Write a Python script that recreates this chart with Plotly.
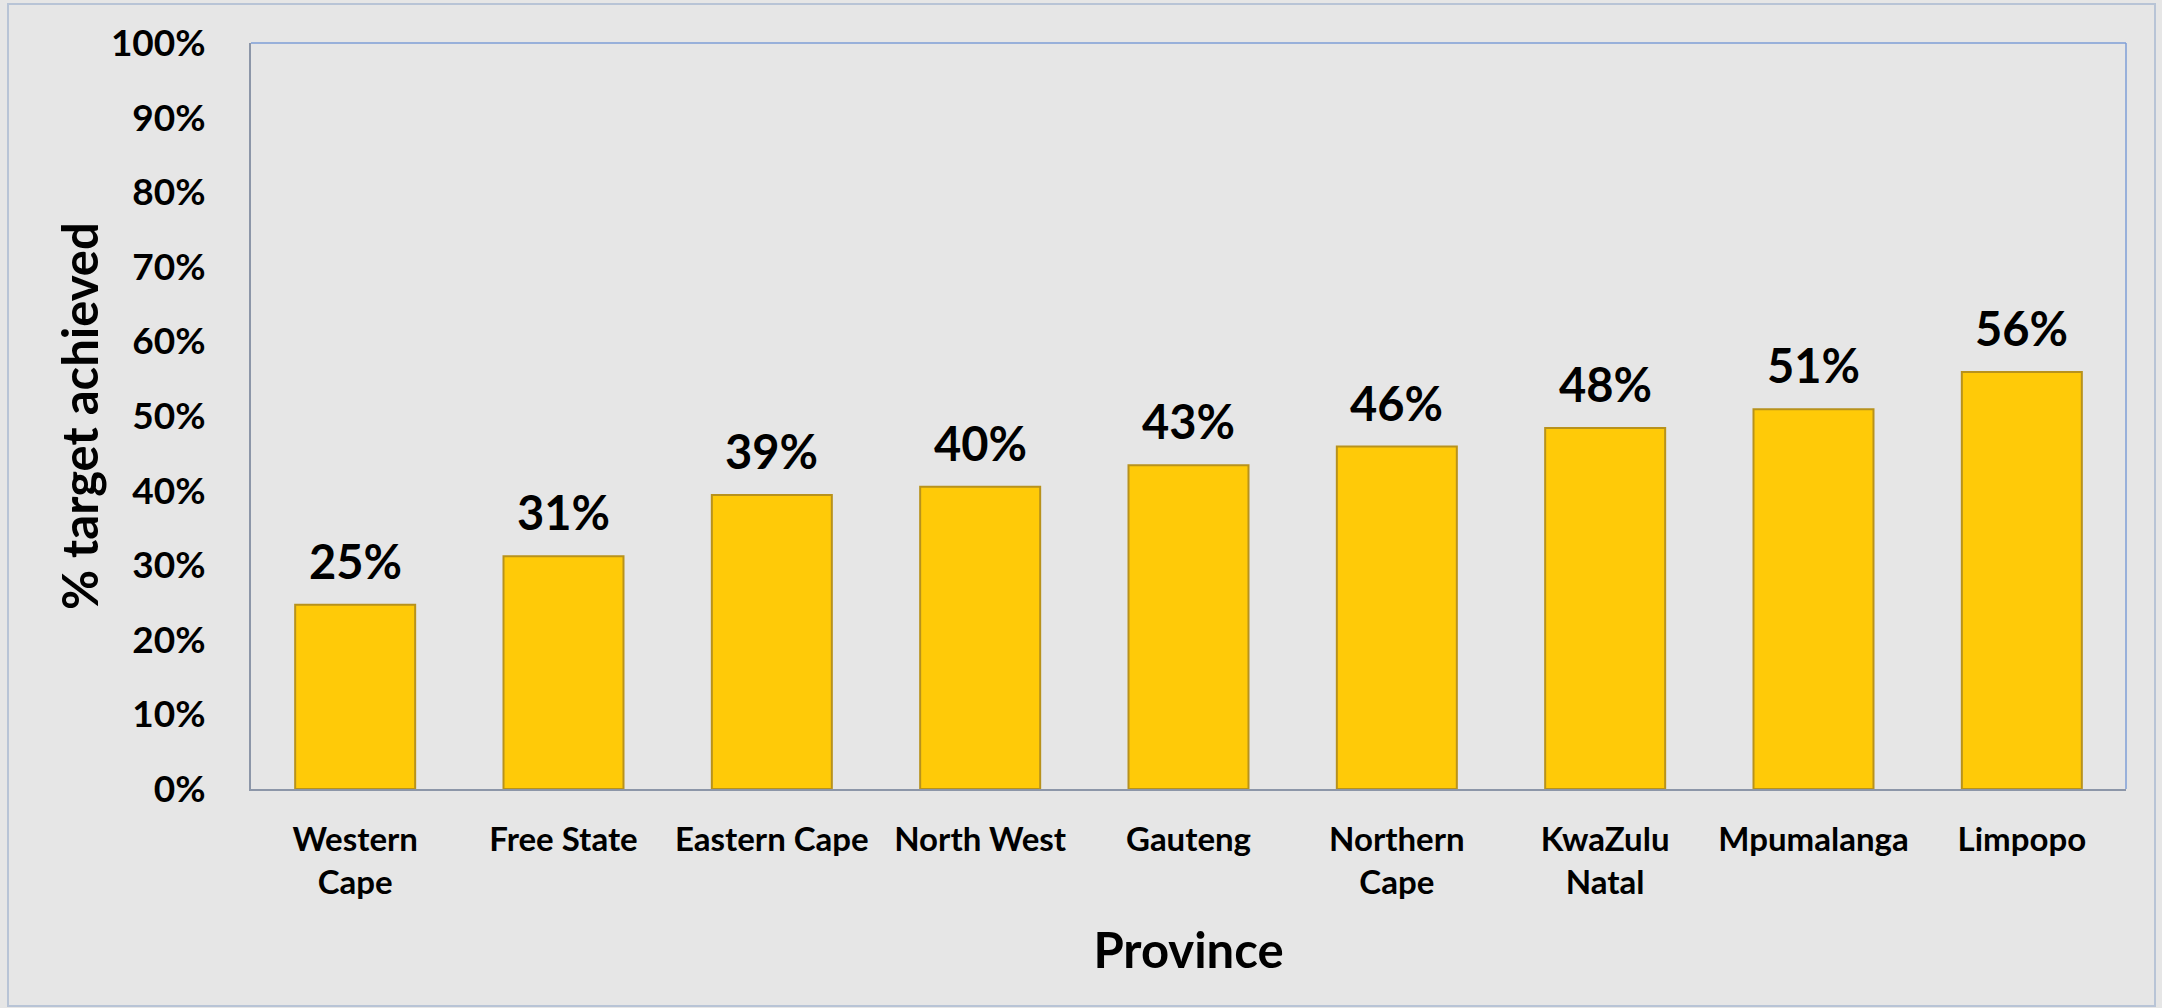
import plotly.graph_objects as go

provinces = ["Western<br>Cape", "Free State", "Eastern Cape", "North West", "Gauteng",
             "Northern<br>Cape", "KwaZulu<br>Natal", "Mpumalanga", "Limpopo"]
achieved = [0.247, 0.312, 0.394, 0.405, 0.434, 0.459, 0.484, 0.509, 0.559]
y_ticks = [i / 10 for i in range(11)]

FONT = "Lato"
BG = "#E6E6E6"

fig = go.Figure()
fig.add_trace(go.Bar(
    x=provinces, y=achieved, width=0.576,
    marker=dict(color="#FFCA08", line=dict(color="#B8921C", width=2)),
    hoverinfo="skip",
))

annotations = []
for p, v in zip(provinces, achieved):
    annotations.append(dict(
        x=p, y=v, xref="x", yref="y", text=f"<b>{v:.0%}</b>", showarrow=False,
        yanchor="bottom", yshift=14, font=dict(family=FONT, size=47, color="black"),
    ))
annotations.append(dict(
    x=(79 - 251) / 1875, y=0.5, xref="paper", yref="paper", text="<b>% target achieved</b>",
    textangle=-90, showarrow=False, xanchor="center", yanchor="middle",
    font=dict(family=FONT, size=49, color="black"),
))

fig.update_layout(
    width=2162, height=1008,
    paper_bgcolor=BG, plot_bgcolor=BG,
    margin=dict(l=251, r=36, t=43, b=219),
    showlegend=False,
    annotations=annotations,
    font=dict(family=FONT, color="black"),
    xaxis=dict(
        showgrid=False, showline=True, linecolor="#8C96A8", linewidth=2,
        tickfont=dict(family=FONT, size=33, color="black", weight="bold"),
        ticks="outside", ticklen=20, tickcolor="rgba(0,0,0,0)",
        title=dict(text="Province", font=dict(family=FONT, size=49, color="black", weight="bold"), standoff=34),
    ),
    yaxis=dict(
        range=[0, 1], tickvals=y_ticks, tickformat=".0%",
        showgrid=False, showline=True, linecolor="#8C96A8", linewidth=2,
        tickfont=dict(family=FONT, size=37, color="black", weight="bold"),
        ticks="outside", ticklen=36, tickcolor="rgba(0,0,0,0)",
        zeroline=False,
    ),
    shapes=[
        dict(type="line", xref="paper", yref="paper", x0=0, x1=1, y0=1, y1=1,
             line=dict(color="#7E9ED6", width=1.5)),
        dict(type="line", xref="paper", yref="paper", x0=1, x1=1, y0=0, y1=1,
             line=dict(color="#7E9ED6", width=1.5)),
        dict(type="rect", xref="paper", yref="paper",
             x0=(8 - 251) / 1875, x1=(2155 - 251) / 1875,
             y0=(789 - 1006) / 746, y1=(789 - 4) / 746,
             line=dict(color="#B8C4D6", width=2), layer="below"),
    ],
)

fig.write_html("out.html")
